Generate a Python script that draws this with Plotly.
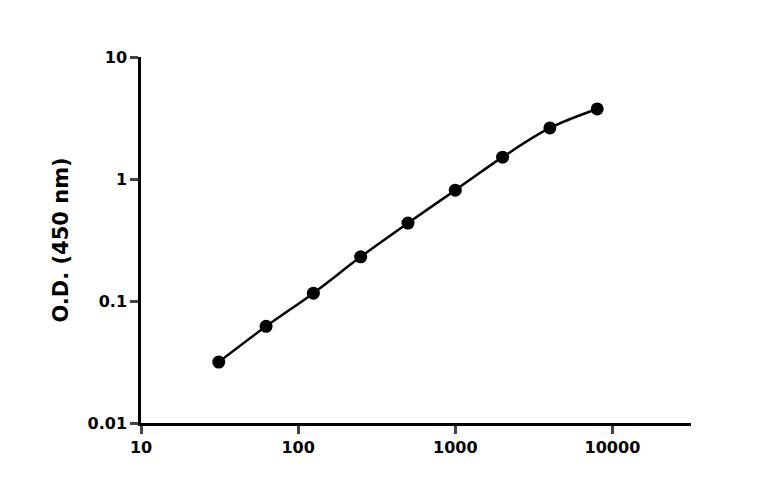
import plotly.graph_objects as go

conc = [31.25, 62.5, 125, 250, 500, 1000, 2000, 4000, 8000]
od = [0.0316, 0.062, 0.116, 0.23, 0.435, 0.81, 1.51, 2.62, 3.75]
x_ticks = [10, 100, 1000, 10000]
x_labels = ["10", "100", "1000", "10000"]
y_ticks = [0.01, 0.1, 1, 10]
y_labels = ["0.01", "0.1", "1", "10"]

fig = go.Figure()
fig.add_trace(go.Scatter(
    x=conc, y=od, mode="lines+markers",
    line=dict(color="black", width=2.5, shape="spline"),
    marker=dict(color="black", size=13),
))

axis_font = dict(family="DejaVu Sans", size=16, color="black", weight="bold")
fig.update_xaxes(
    type="log", range=[1, 4.5], tickvals=x_ticks, ticktext=x_labels,
    showline=True, linecolor="black", linewidth=2.5, ticks="outside",
    ticklen=8, tickwidth=2.5, showgrid=False, zeroline=False,
    tickfont=axis_font,
)
fig.update_yaxes(
    type="log", range=[-2, 1], tickvals=y_ticks, ticktext=y_labels,
    showline=True, linecolor="black", linewidth=2.5, ticks="outside",
    ticklen=8, tickwidth=2.5, showgrid=False, zeroline=False,
    tickfont=axis_font,
    title=dict(text="<b>O.D. (450 nm)</b>", font=dict(family="DejaVu Sans", size=21, color="black"), standoff=14),
)
fig.update_layout(
    width=768, height=494, showlegend=False,
    margin=dict(l=133, r=85, t=49, b=79),
    plot_bgcolor="white", paper_bgcolor="white",
    font=dict(family="DejaVu Sans", color="black"),
)

fig.write_html("out.html")
